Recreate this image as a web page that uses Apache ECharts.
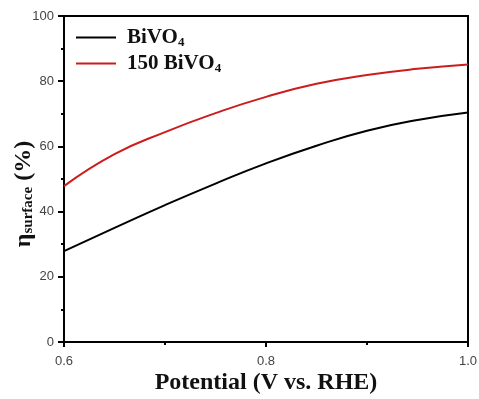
<!DOCTYPE html>
<html>
<head>
<meta charset="utf-8">
<script src="https://cdn.jsdelivr.net/npm/echarts@6/dist/echarts.min.js"></script>
<style>
  html, body { margin: 0; padding: 0; background: #fff; }
  #chart { width: 479px; height: 399px; }
</style>
</head>
<body>
<div id="chart"></div>
<script>
// Potential (V vs. RHE)
const potential = [0.60, 0.65, 0.70, 0.75, 0.80, 0.85, 0.90, 0.95, 1.00];
// Surface charge-transfer efficiency (%)
const bivo4 = [27.9, 35.0, 42.0, 48.6, 54.8, 60.2, 64.8, 68.1, 70.4];
const bivo4_150 = [47.8, 57.6, 64.4, 70.2, 75.2, 79.2, 81.9, 83.8, 85.1];
const yTicks = [0, 20, 40, 60, 80, 100];
const xTicks = [0.6, 0.8, 1.0];

const pairs = (xs, ys) => xs.map((x, i) => [x, ys[i]]);
const serif = '"Liberation Serif", "Times New Roman", serif';
const sans = '"Liberation Sans", Arial, sans-serif';

const chart = echarts.init(document.getElementById('chart'), null, { renderer: 'canvas' });

chart.setOption({
  animation: false,
  backgroundColor: '#fff',
  grid: {
    left: 64, right: 11, top: 16, bottom: 57,
    outerBoundsMode: 'none',
    containLabel: false,
    show: true, borderColor: '#000', borderWidth: 2, backgroundColor: 'transparent'
  },
  legend: {
    orient: 'vertical',
    left: 71, top: 21,
    itemWidth: 40, itemHeight: 2, itemGap: 3,
    icon: 'rect',
    data: ['BiVO4', '150 BiVO4'],
    formatter: function (name) {
      return name === 'BiVO4' ? '{m|BiVO}{s|4}' : '{m|150 BiVO}{s|4}';
    },
    textStyle: {
      padding: [0, 0, 0, 6],
      rich: {
        m: { fontFamily: serif, fontWeight: 'bold', fontSize: 21, color: '#111', lineHeight: 22 },
        s: { fontFamily: serif, fontWeight: 'bold', fontSize: 13, color: '#111', lineHeight: 22, padding: [10, 0, 0, 0] }
      }
    }
  },
  xAxis: {
    type: 'value',
    min: xTicks[0], max: xTicks[xTicks.length - 1], interval: 0.2,
    name: 'Potential (V vs. RHE)',
    nameLocation: 'middle', nameGap: 29, nameMoveOverlap: false,
    nameTextStyle: { fontFamily: serif, fontWeight: 'bold', fontSize: 24, color: '#111' },
    axisLine: { lineStyle: { color: '#000', width: 2 } },
    axisTick: { show: true, length: 5, lineStyle: { color: '#000', width: 2 } },
    minorTick: { show: true, splitNumber: 2, length: 3, lineStyle: { color: '#000', width: 2 } },
    splitLine: { show: false },
    axisLabel: {
      fontFamily: sans, fontSize: 13, color: '#444', margin: 13,
      formatter: v => v.toFixed(1)
    }
  },
  yAxis: {
    type: 'value',
    min: yTicks[0], max: yTicks[yTicks.length - 1], interval: 20,
    name: '{m|η}{s|surface}{m| (%)}',
    nameLocation: 'middle', nameGap: 27, nameRotate: 90, nameMoveOverlap: false,
    nameTextStyle: {
      padding: [0, 30, 0, 0],
      rich: {
        m: { fontFamily: serif, fontWeight: 'bold', fontSize: 24, color: '#111', lineHeight: 26 },
        s: { fontFamily: serif, fontWeight: 'bold', fontSize: 15, color: '#111', lineHeight: 26, padding: [9, 0, 0, 0] }
      }
    },
    axisLine: { lineStyle: { color: '#000', width: 2 } },
    axisTick: { show: true, length: 6, lineStyle: { color: '#000', width: 2 } },
    minorTick: { show: true, splitNumber: 2, length: 3, lineStyle: { color: '#000', width: 2 } },
    splitLine: { show: false },
    axisLabel: { fontFamily: sans, fontSize: 13, color: '#444', margin: 10 }
  },
  series: [
    {
      name: 'BiVO4', type: 'line', data: pairs(potential, bivo4),
      smooth: true, symbol: 'none',
      lineStyle: { color: '#000', width: 2 }, itemStyle: { color: '#000' }
    },
    {
      name: '150 BiVO4', type: 'line', data: pairs(potential, bivo4_150),
      smooth: true, symbol: 'none',
      lineStyle: { color: '#cc1c1c', width: 2 }, itemStyle: { color: '#cc1c1c' }
    }
  ]
});
</script>
</body>
</html>
